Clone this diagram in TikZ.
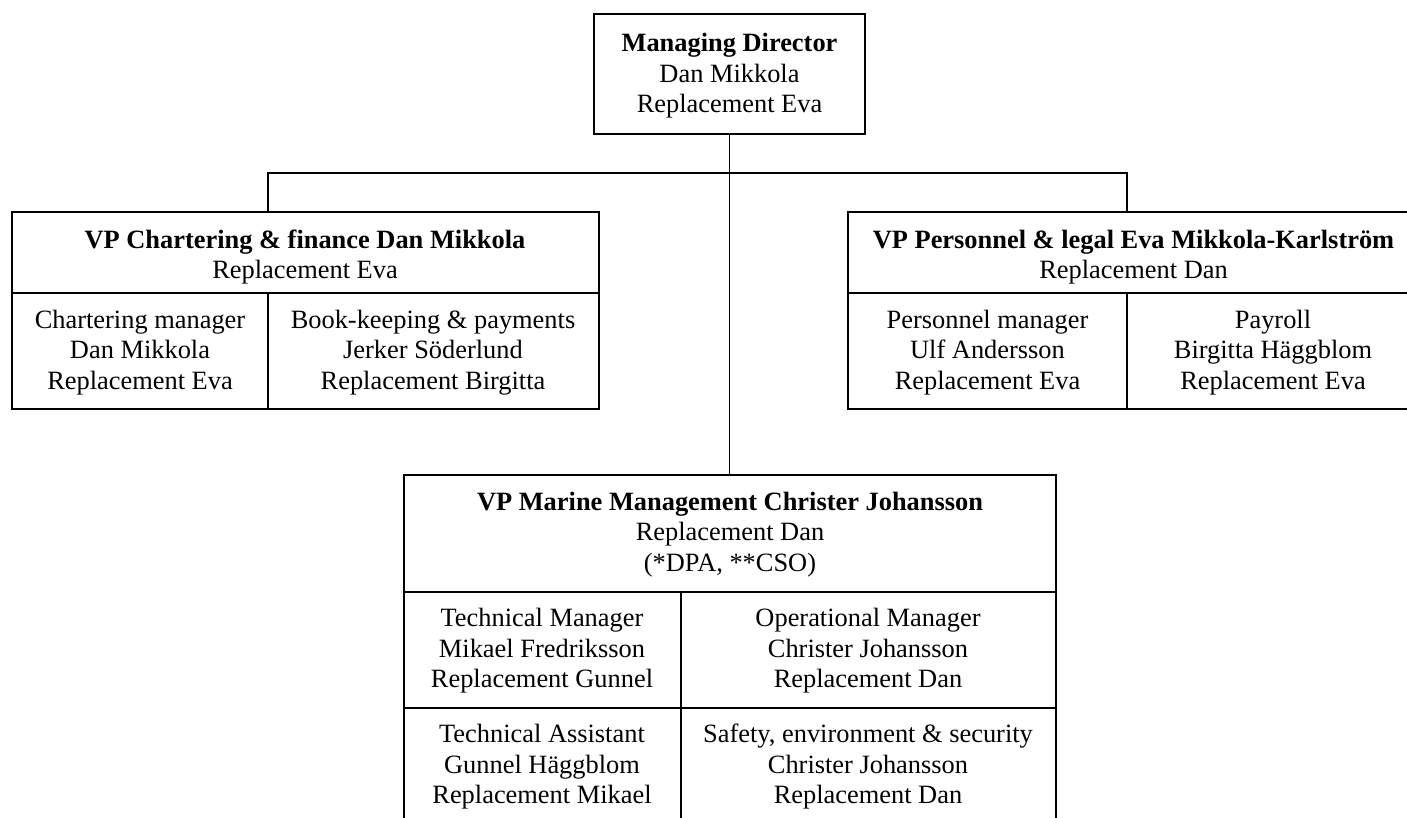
\documentclass[tikz,border=0pt]{standalone}
\usepackage{fontspec}
\setmainfont{Liberation Serif}
\begin{document}
\begin{tikzpicture}[x=1pt,y=-1pt,
  cell/.style={draw, line width=1.9pt, inner sep=0pt, outer sep=0pt},
  txt/.style={align=center, inner sep=0pt, font=\fontsize{26.4}{30.5}\selectfont},
  conn/.style={line width=1.9pt}]
\clip (0,0) rectangle (1407,818);
\fill[white] (0,0) rectangle (1407,818);

% Managing director
\node[cell, minimum width=271pt, minimum height=120pt] (md) at (729.5,74) {};
\node[txt] (tmd) at (729.5,76) {\textbf{Managing Director}\\Dan Mikkola\\Replacement Eva};

% Left block
\node[cell, minimum width=586.7pt, minimum height=81pt] (lh) at (305.35,252.5) {};
\node[cell, minimum width=256pt, minimum height=116pt] (lc1) at (140,351) {};
\node[cell, minimum width=330.7pt, minimum height=116pt] (lc2) at (433.35,351) {};
\node[txt] (tlh) at (305,257) {\textbf{VP Chartering \& finance Dan Mikkola}\\Replacement Eva};
\node[txt] (tlc1) at (140,352.5) {Chartering manager\\Dan Mikkola\\Replacement Eva};
\node[txt] (tlc2) at (433,352.5) {Book-keeping \& payments\\Jerker Söderlund\\Replacement Birgitta};

% Right block
\node[cell, minimum width=571pt, minimum height=81pt] (rh) at (1133.5,252.5) {};
\node[cell, minimum width=279pt, minimum height=116pt] (rc1) at (987.5,351) {};
\node[cell, minimum width=292pt, minimum height=116pt] (rc2) at (1273,351) {};
\node[txt] (trh) at (1133.5,257) {\textbf{VP Personnel \& legal Eva Mikkola-Karlström}\\Replacement Dan};
\node[txt] (trc1) at (987.5,352.5) {Personnel manager\\Ulf Andersson\\Replacement Eva};
\node[txt] (trc2) at (1273,352.5) {Payroll\\Birgitta Häggblom\\Replacement Eva};

% Marine block
\node[cell, minimum width=652pt, minimum height=117pt] (mh) at (730,533.5) {};
\node[cell, minimum width=277pt, minimum height=116pt] (mc1) at (542.5,650) {};
\node[cell, minimum width=375pt, minimum height=116pt] (mc2) at (868.5,650) {};
\node[cell, minimum width=277pt, minimum height=116pt] (mc3) at (542.5,766) {};
\node[cell, minimum width=375pt, minimum height=116pt] (mc4) at (868.5,766) {};
\node[txt] (tmh) at (730,534.5) {\textbf{VP Marine Management Christer Johansson}\\Replacement Dan\\(*DPA, **CSO)};
\node[txt] (tmc1) at (542,651) {Technical Manager\\Mikael Fredriksson\\Replacement Gunnel};
\node[txt] (tmc2) at (868,651) {Operational Manager\\Christer Johansson\\Replacement Dan};
\node[txt] (tmc3) at (542,767) {Technical Assistant\\Gunnel Häggblom\\Replacement Mikael};
\node[txt] (tmc4) at (868,767) {Safety, environment \& security\\Christer Johansson\\Replacement Dan};

% Connectors
\coordinate (bus) at (729.5,173);
\draw[conn] (md.south) -- (md.south |- mh.north);
\draw[conn] (lh.north -| lc1.east) |- (bus) -| (rh.north -| rc1.east);
\end{tikzpicture}
\end{document}
